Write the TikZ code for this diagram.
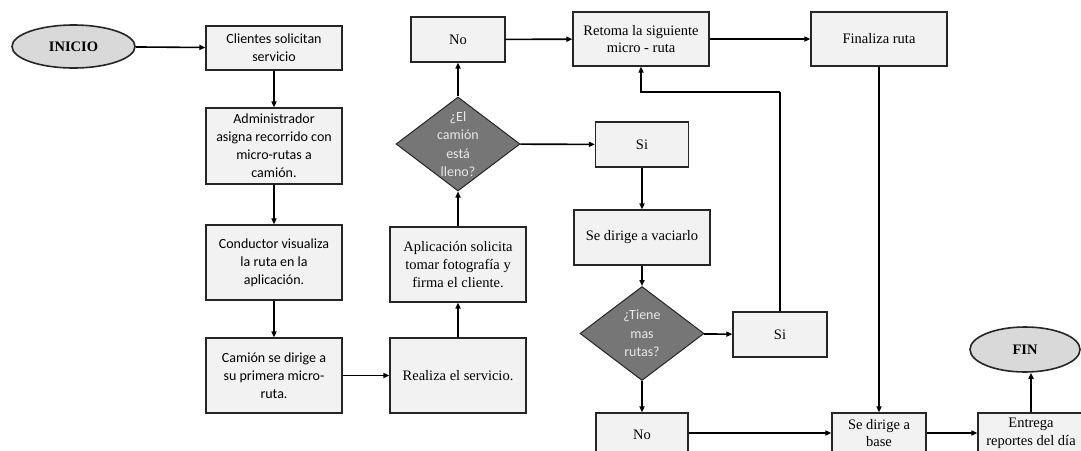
\documentclass[tikz,border=0pt]{standalone}
\usepackage{fontspec}
\setmainfont{Liberation Serif}
\newfontfamily\calfont{Carlito}
\usetikzlibrary{shapes.geometric,arrows.meta}
\definecolor{boxfill}{HTML}{F2F2F2}
\definecolor{termfill}{HTML}{D9D9D9}
\definecolor{diafill}{HTML}{767676}
\definecolor{diatext}{HTML}{E8E8E8}
\definecolor{edge}{HTML}{262626}
\begin{document}
\begin{tikzpicture}[x=1pt,y=-1pt,
  box/.style={draw=edge, fill=boxfill, line width=1.2pt, align=center, inner sep=1pt,
    font=\fontsize{14.5}{17.8}\selectfont},
  sbox/.style={box, font=\calfont\fontsize{14}{18}\selectfont},
  term/.style={ellipse, draw=edge, fill=termfill, line width=1.6pt, inner sep=0pt,
    font=\bfseries\fontsize{14.5}{17}\selectfont},
  dia/.style={diamond, draw=edge, fill=diafill, line width=1pt, inner sep=0pt,
    minimum width=124pt, minimum height=94pt},
  dtext/.style={text=diatext, align=center, font=\calfont\fontsize{14}{18.5}\selectfont},
  arr/.style={draw=black, line width=1.6pt, -{Triangle[length=6pt,width=5pt]}},
  ln/.style={draw=black, line width=1.6pt}]
\useasboundingbox (0,0) rectangle (1081,450);
\fill[white] (0,0) rectangle (1081,450);
\clip (0,0) rectangle (1081,450);

% left column
\node[term, minimum width=123pt, minimum height=43pt] (inicio) at (73.5,46.5) {INICIO};
\node[sbox, minimum width=136pt, minimum height=44pt] (c1) at (274,48) {Clientes solicitan\\servicio};
\node[sbox, minimum width=136pt, minimum height=76pt] (c2) at (274,146) {Administrador\\asigna recorrido con\\micro-rutas a\\camión.};
\node[sbox, minimum width=136pt, minimum height=75pt] (c3) at (274,262.5) {Conductor visualiza\\la ruta en la\\aplicación.};
\node[sbox, minimum width=136pt, minimum height=75pt] (c4) at (274,375.5) {Camión se dirige a\\su primera micro-\\ruta.};

% second column
\node[box, minimum width=136pt, minimum height=75pt] (realiza) at (458,375.5) {Realiza el servicio.};
\node[box, minimum width=136pt, minimum height=75pt] (aplic) at (458,264.5) {Aplicación solicita\\tomar fotografía y\\firma el cliente.};
\node[dia, label={[dtext]center:{¿El\\camión\\está\\lleno?}}] (d1) at (458,144) {};
\node[box, minimum width=94pt, minimum height=45pt] (notop) at (458,39.5) {No};

% third column
\node[box, minimum width=136pt, minimum height=54pt] (retoma) at (641,39) {Retoma la siguiente\\micro - ruta};
\node[box, minimum width=93pt, minimum height=45pt] (sitop) at (642,144.5) {Si};
\node[box, minimum width=136pt, minimum height=55pt] (vaciar) at (642,237.5) {Se dirige a vaciarlo};
\node[dia, label={[dtext]center:{¿Tiene\\mas\\rutas?}}] (d2) at (642,333.5) {};
\node[box, minimum width=92pt, minimum height=44pt] (nobot) at (642,435) {No};
\node[box, minimum width=94pt, minimum height=45pt] (siright) at (780,334.5) {Si};

% right part
\node[box, minimum width=136pt, minimum height=54pt] (finaliza) at (879,39) {Finaliza ruta};
\node[box, minimum width=94pt, minimum height=40pt] (base) at (879,433) {Se dirige a\\base};
\node[box, minimum width=106pt, minimum height=40pt] (entrega) at (1031,433) {Entrega\\reportes del día};
\node[term, minimum width=110pt, minimum height=45pt] (fin) at (1025,349.5) {FIN};

\coordinate (k) at (780,92);

% connectors
\draw[arr] (inicio) -- (c1);
\draw[arr] (c1) -- (c2);
\draw[arr] (c2) -- (c3);
\draw[arr] (c3) -- (c4);
\draw[arr] (c4) -- (realiza);
\draw[arr] (realiza) -- (aplic);
\draw[arr] (aplic) -- (d1);
\draw[arr] (d1) -- (notop);
\draw[arr] (d1) -- (sitop);
\draw[arr] (notop) -- (retoma);
\draw[arr] (retoma) -- (finaliza);
\draw[arr] (sitop) -- (vaciar);
\draw[arr] (vaciar) -- (d2);
\draw[arr] (d2) -- (siright);
\draw[arr] (d2) -- (nobot);
\draw[ln] (siright.north) -- (k);
\draw[arr] (k) -| (retoma.south);
\draw[arr] (finaliza) -- (base);
\draw[arr] (nobot.east |- base.west) -- (base.west);
\draw[arr] (base) -- (entrega);
\draw[arr] (entrega.north) -- (entrega.north |- fin.south);
\end{tikzpicture}
\end{document}
